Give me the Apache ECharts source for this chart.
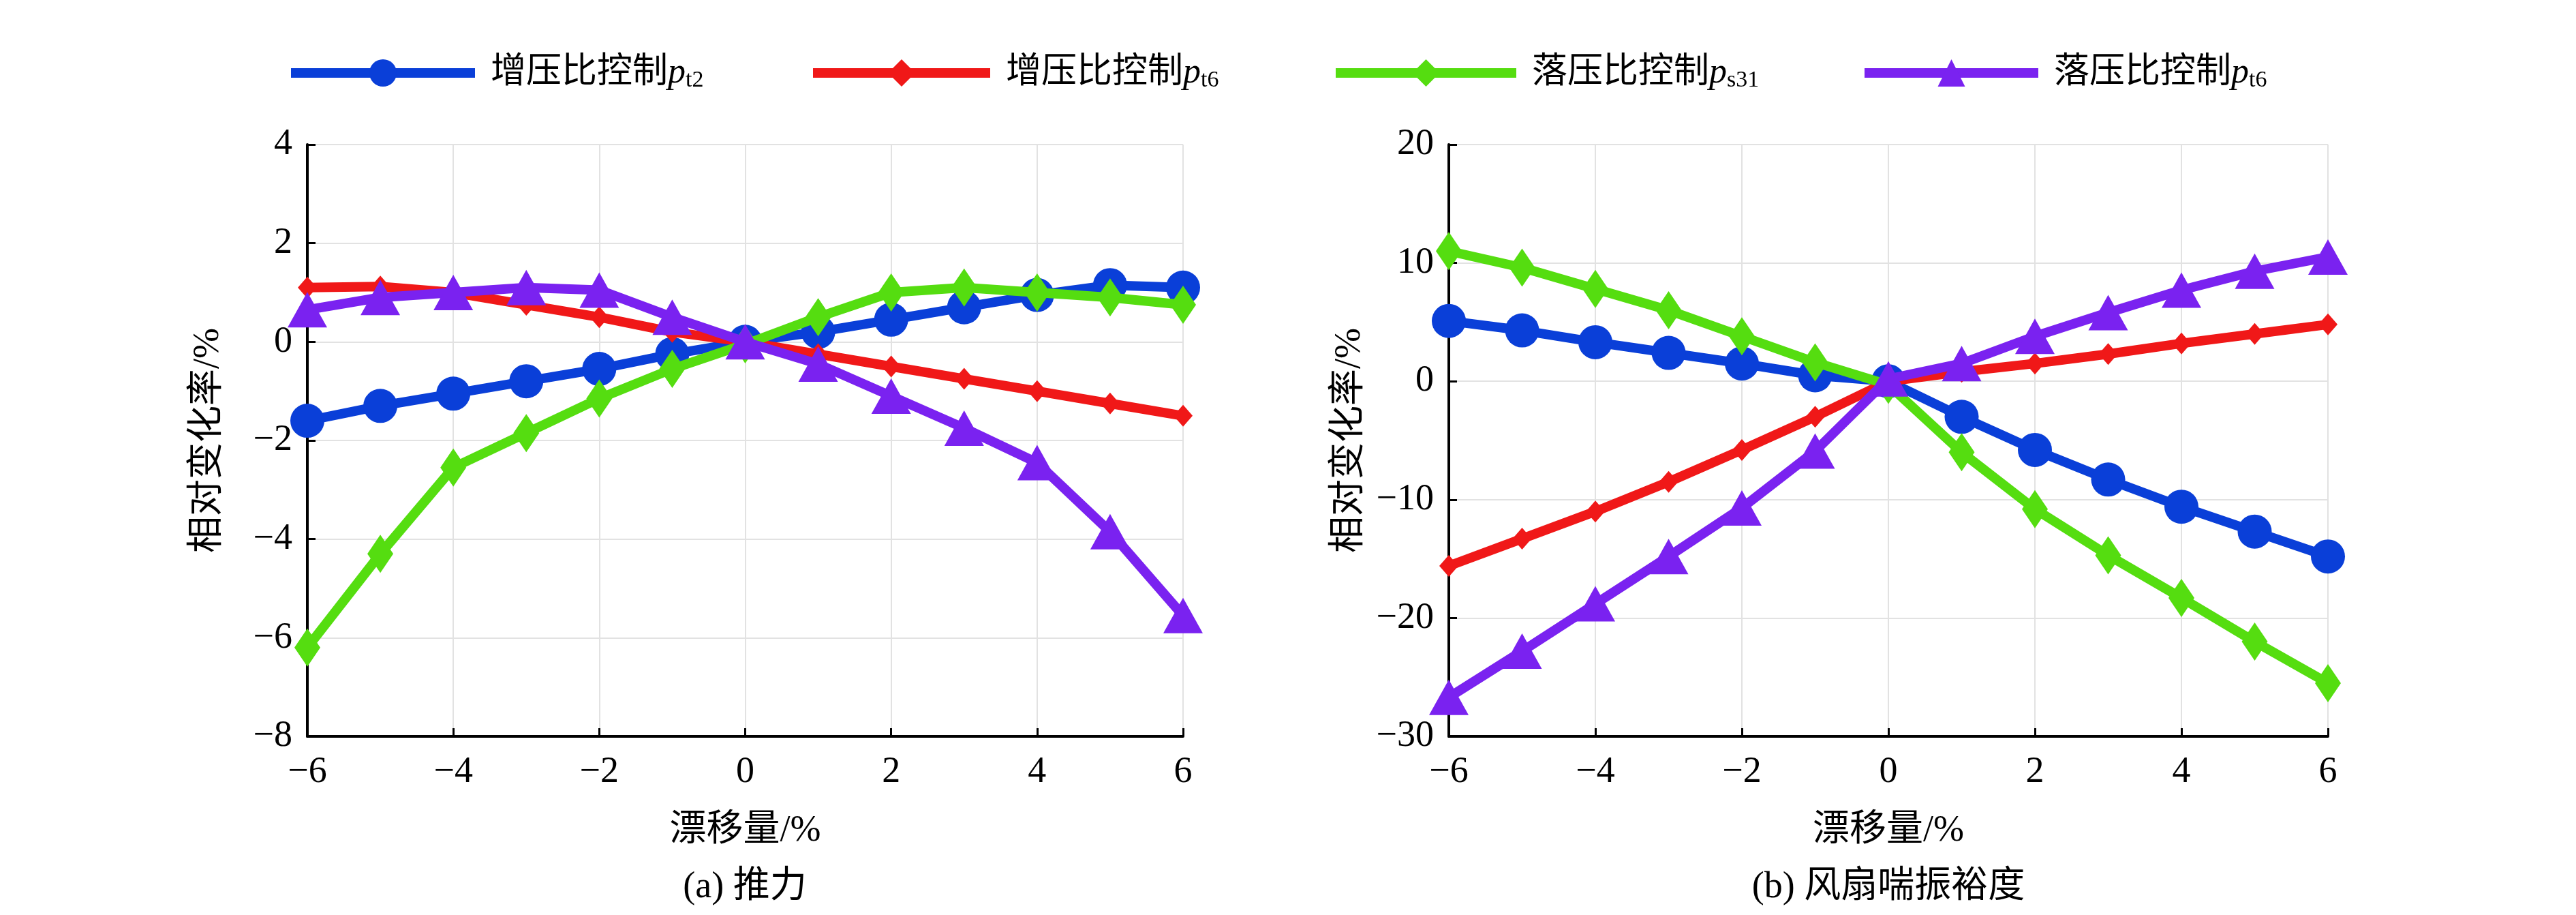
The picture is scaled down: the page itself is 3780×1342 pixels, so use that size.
<!DOCTYPE html>
<html><head><meta charset="utf-8">
<script src="https://cdn.jsdelivr.net/npm/echarts@6/dist/echarts.min.js"></script>
<style>html,body{margin:0;background:#fff}#c{width:3780px;height:1342px}</style>
</head><body><div id="c"></div>
<script>
const drift = [-6, -5, -4, -3, -2, -1, 0, 1, 2, 3, 4, 5, 6]
const seriesNames = ['增压比控制pt2', '增压比控制pt6', '落压比控制ps31', '落压比控制pt6']
// (a) 推力
const thrustPt2 = [-1.6, -1.3, -1.05, -0.8, -0.55, -0.25, 0, 0.2, 0.45, 0.7, 0.95, 1.15, 1.1]
const thrustPt6 = [1.1, 1.12, 1.0, 0.75, 0.5, 0.2, 0, -0.25, -0.5, -0.75, -1.0, -1.25, -1.5]
const thrustPs31 = [-6.2, -4.3, -2.55, -1.85, -1.15, -0.55, -0.05, 0.5, 1.0, 1.1, 1.0, 0.9, 0.75]
const thrustPt6b = [0.65, 0.9, 1.0, 1.1, 1.05, 0.5, 0, -0.45, -1.1, -1.75, -2.45, -3.85, -5.55]
// (b) 风扇喘振裕度
const surgePt2 = [5.1, 4.3, 3.3, 2.4, 1.5, 0.5, 0, -3, -5.8, -8.3, -10.6, -12.7, -14.8]
const surgePt6 = [-15.6, -13.3, -11.0, -8.5, -5.8, -3.0, 0, 0.8, 1.5, 2.3, 3.2, 4.0, 4.8]
const surgePs31 = [11, 9.6, 7.8, 6.0, 3.8, 1.6, -0.3, -6.0, -10.8, -14.7, -18.3, -22.0, -25.5]
const surgePt6b = [-26.7, -22.8, -18.8, -14.8, -10.7, -5.9, 0.2, 1.5, 3.8, 5.8, 7.7, 9.3, 10.5]

const colors = ['#0a3fd8', '#f01818', '#55dd10', '#7a22f0']
const symbols = ['circle', 'diamond', 'diamond', 'triangle']
const sizes = [[50, 50], [28, 32], [38, 56], [58, 52]]
const legendText = ['增压比控制{i|p}{s|t2}', '增压比控制{i|p}{s|t6}', '落压比控制{i|p}{s|s31}', '落压比控制{i|p}{s|t6}']
const legendLeft = [415, 1181, 1948, 2724]
const legendWidth = [270, 260, 265, 255]

const font = '"Liberation Serif", "Noto Sans CJK SC", serif'
const chart = echarts.init(document.getElementById('c'))

function mkSeries(idx, data, gi) {
  return {
    name: seriesNames[idx], type: 'line', xAxisIndex: gi, yAxisIndex: gi,
    data: drift.map((x, i) => [x, data[i]]),
    symbol: symbols[idx], symbolSize: sizes[idx],
    lineStyle: { width: 14, color: colors[idx] },
    itemStyle: { color: colors[idx] },
    z: 2 + idx
  }
}

const fmt = v => String(v).replace('-', '\u2212')
const xAxisBase = {
  type: 'value', min: -6, max: 6, interval: 2,
  name: '漂移量/%', nameLocation: 'middle', nameGap: 112,
  nameTextStyle: { fontSize: 54, fontFamily: font, color: '#000' },
  axisLine: { onZero: false, lineStyle: { color: '#000', width: 4 } },
  axisTick: { inside: true, length: 12, lineStyle: { color: '#000', width: 3 } },
  axisLabel: { fontSize: 54, fontFamily: font, color: '#000', margin: 26, formatter: fmt },
  splitLine: { show: true, lineStyle: { color: '#e2e2e2', width: 2 } }
}
function yAxis(min, max, interval) {
  return {
    type: 'value', min, max, interval,
    name: '相对变化率/%', nameLocation: 'middle', nameGap: 118,
    nameTextStyle: { fontSize: 54, fontFamily: font, color: '#000' },
    axisLine: { show: true, onZero: false, lineStyle: { color: '#000', width: 4 } },
    axisTick: { show: true, inside: true, length: 12, lineStyle: { color: '#000', width: 3 } },
    axisLabel: { fontSize: 54, fontFamily: font, color: '#000', margin: 22, formatter: fmt },
    splitLine: { show: true, lineStyle: { color: '#e2e2e2', width: 2 } }
  }
}

chart.setOption({
  backgroundColor: '#fff',
  animation: false,
  legend: seriesNames.map((n, i) => ({
    data: [n], left: legendLeft[i], top: 76, itemWidth: legendWidth[i], itemHeight: 50, itemGap: 0,
    lineStyle: { width: 14 },
    formatter: () => legendText[i],
    textStyle: { fontSize: 52, fontFamily: font, color: '#000', padding: [0, 0, 0, 18],
      rich: {
        i: { fontSize: 52, fontStyle: 'italic', fontFamily: font },
        s: { fontSize: 34, fontFamily: font, verticalAlign: 'bottom', padding: [22, 0, 0, 0] }
      } }
  })),
  grid: [
    { left: 451, width: 1285, top: 212, height: 868 },
    { left: 2126, width: 1290, top: 212, height: 868 }
  ],
  xAxis: [Object.assign({ gridIndex: 0 }, xAxisBase), Object.assign({ gridIndex: 1 }, xAxisBase)],
  yAxis: [Object.assign({ gridIndex: 0 }, yAxis(-8, 4, 2)), Object.assign({ gridIndex: 1 }, yAxis(-30, 20, 10))],
  graphic: [
    { type: 'text', left: 'center', x: 0, top: 1268, style: { text: '', font: '54px ' + font } },
    { type: 'text', x: 1093, y: 1302, style: { text: '(a) 推力', font: '54px ' + font, fill: '#000', align: 'center', verticalAlign: 'middle' } },
    { type: 'text', x: 2771, y: 1302, style: { text: '(b) 风扇喘振裕度', font: '54px ' + font, fill: '#000', align: 'center', verticalAlign: 'middle' } }
  ],
  series: [
    mkSeries(0, thrustPt2, 0), mkSeries(1, thrustPt6, 0), mkSeries(2, thrustPs31, 0), mkSeries(3, thrustPt6b, 0),
    mkSeries(0, surgePt2, 1), mkSeries(1, surgePt6, 1), mkSeries(2, surgePs31, 1), mkSeries(3, surgePt6b, 1)
  ]
})
</script></body></html>
